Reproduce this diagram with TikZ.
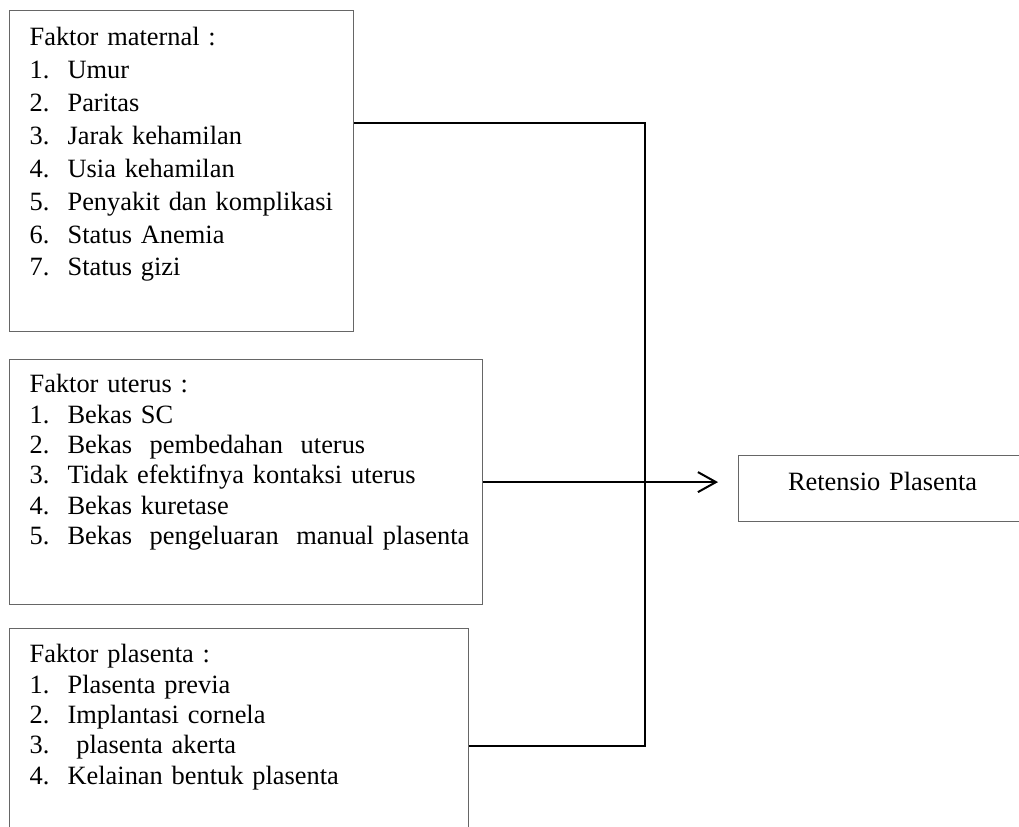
\documentclass[tikz,border=0pt]{standalone}
\usepackage{fontspec}
\setmainfont{Liberation Serif}
\usetikzlibrary{arrows.meta}

\newcommand{\butir}[2]{\mbox{\makebox[19pt][l]{#1}#2}}

\tikzset{
	faktor/.style={draw=black!60, line width=0.6pt, anchor=north west, inner xsep=10pt, inner ysep=0pt, align=left, font=\fontsize{13.2}{15.2}\selectfont},
	garis/.style={line width=1pt, >={Straight Barb[length=9pt,width=10pt]}}
}

\begin{document}
\begin{tikzpicture}[x=0.5pt, y=-0.5pt]
	\useasboundingbox (0,0) rectangle (1019,826);
	
	%draw the three boxes of factors
	\node[faktor, text width=152pt, text height=17.5pt, text depth=143pt, font=\fontsize{13.2}{16.45}\selectfont] (maternal) at (9,10) {Faktor maternal :\\
		\butir{1.}{Umur}\\
		\butir{2.}{Paritas}\\
		\butir{3.}{Jarak kehamilan}\\
		\butir{4.}{Usia kehamilan}\\
		\butir{5.}{Penyakit dan komplikasi}\\
		\butir{6.}{Status Anemia}\\
		\butir{7.}{Status gizi}};
	\node[faktor, text width=216.5pt, text height=16.5pt, text depth=106pt] (uterus) at (9,359) {Faktor uterus :\\
		\butir{1.}{Bekas SC}\\
		\butir{2.}{Bekas~ pembedahan~ uterus}\\
		\butir{3.}{Tidak efektifnya kontaksi uterus}\\
		\butir{4.}{Bekas kuretase}\\
		\butir{5.}{Bekas~ pengeluaran~ manual plasenta}};
	\node[faktor, text width=209.5pt, text height=17pt, text depth=99pt] (plasenta) at (9,628) {Faktor plasenta :\\
		\butir{1.}{Plasenta previa}\\
		\butir{2.}{Implantasi cornela}\\
		\butir{3.}{\ plasenta akerta}\\
		\butir{4.}{Kelainan bentuk plasenta}};
	
	%draw the outcome box
	\node[faktor, text width=124pt, text height=17.5pt, text depth=15.5pt, align=center] (retensio) at (738,455) {Retensio Plasenta};
	
	%draw connectors
	\coordinate (dari1) at ([yshift=-56.5pt]maternal.north east);
	\coordinate (dari3) at ([yshift=-59pt]plasenta.north east);
	\coordinate (tegak) at (645,0);
	\draw[garis] (dari1) -- (dari1 -| tegak) -- (dari3 -| tegak) -- (dari3);
	\draw[garis, ->, shorten >=10pt] (uterus.east) -- (uterus.east -| retensio.west);
\end{tikzpicture}
\end{document}
